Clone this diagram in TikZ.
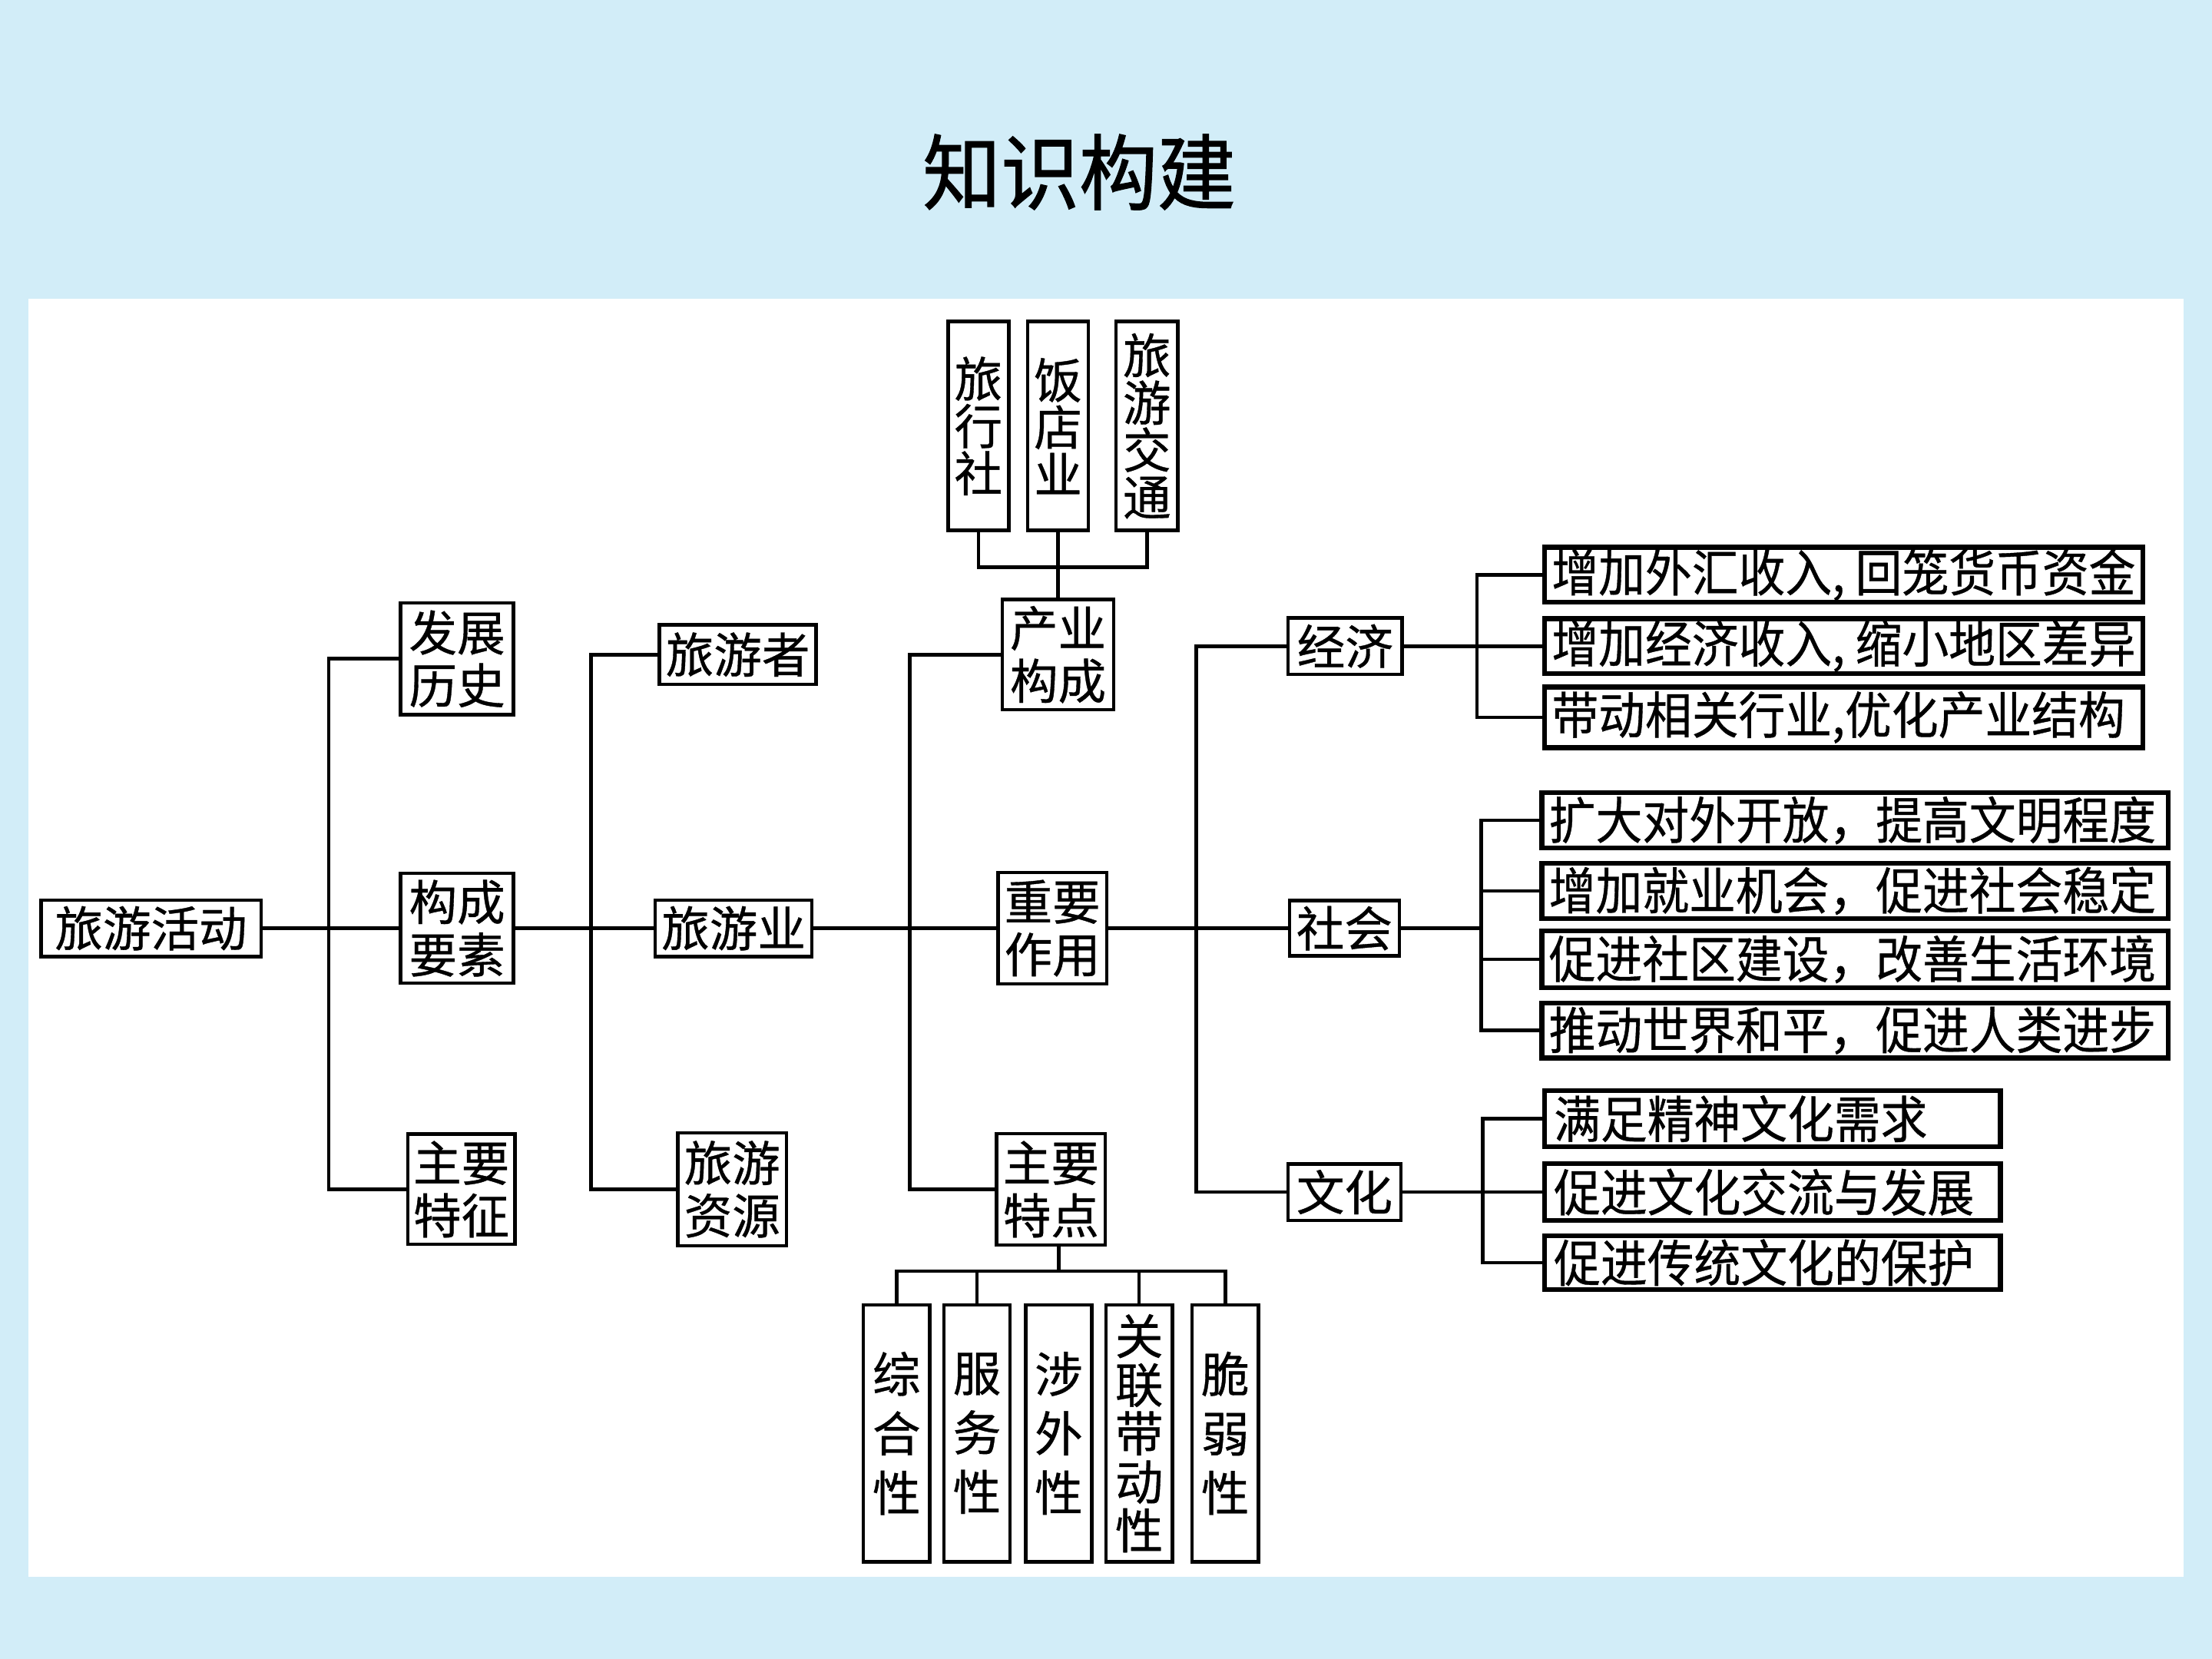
\documentclass[tikz,border=0pt]{standalone}
\usepackage{fontspec}
\usepackage{graphicx}
\newfontfamily\cjk[FakeBold=0.6]{Noto Sans CJK SC}
\newfontfamily\cjkt[FakeBold=1.2]{Noto Sans CJK SC}
\definecolor{bgblue}{RGB}{210,237,248}
\def\myu{0.018367cm}
\newcommand{\lt}[2]{\makebox[\dimexpr\myu*#1\relax][l]{\scalebox{1}[1.08]{#2}}}
\tikzset{
 ln/.style={line width=1.3pt},
 bx/.style 2 args={draw, line width=1.3pt, inner sep=0pt, minimum width=#1*\myu, minimum height=#2*\myu, align=center, font=\cjk\fontsize{17.8}{19.5}\selectfont},
 vb/.style={font=\cjk\fontsize{17.8}{17.5}\selectfont},
 rb/.style 2 args={draw, line width=1.8pt, inner sep=0pt, minimum width=#1*\myu, minimum height=#2*\myu, font=\cjk\fontsize{17.3}{19}\selectfont},
}
\begin{document}
\begin{tikzpicture}[x=\myu,y=-\myu]
\fill[bgblue] (0,0) rectangle (1568,1176);
\useasboundingbox (0,0) rectangle (1568,1176);
\fill[white] (20,212) rectangle (1548,1118);
\node[font=\cjkt\fontsize{29}{30}\selectfont, inner sep=0pt] (title) at (765,122) {\scalebox{1}[1.05]{知识构建}};

% column 1
\node[bx={156}{40}] (huodong) at (107,658) {旅游活动};
\node[bx={80}{79}] (lishi) at (324,467) {发展\\历史};
\node[bx={80}{78}] (yaosu) at (324,658) {构成\\要素};
\node[bx={76}{78}] (tezheng) at (327,843) {主要\\特征};
% column 2
\node[bx={111}{42}] (youke) at (523,464) {旅游者};
\node[bx={111}{40}] (lyye) at (520,658) {旅游业};
\node[bx={77}{80}] (ziyuan) at (519,843) {旅游\\资源};
% column 3
\node[bx={79}{78}] (goucheng) at (750,464) {产业\\构成};
\node[bx={77}{79}] (zuoyong) at (746,658) {重要\\作用};
\node[bx={77}{79}] (tedian) at (745,843) {主要\\特点};
% top vertical boxes
\node[bx={43}{148},vb] (lxs) at (693.5,302) {旅\\行\\社};
\node[bx={43}{148},vb] (fdy) at (750,302) {饭\\店\\业};
\node[bx={44}{148},vb] (lyjt) at (813,302) {旅\\游\\交\\通};
% bottom vertical boxes
\node[bx={47}{182},font=\cjk\fontsize{17.8}{22}\selectfont] (zonghe) at (635.5,1016) {综\\合\\性};
\node[bx={47}{182},font=\cjk\fontsize{17.8}{22}\selectfont] (fuwu) at (692.5,1016) {服\\务\\性};
\node[bx={47}{182},font=\cjk\fontsize{17.8}{22}\selectfont] (shewai) at (750.5,1016) {涉\\外\\性};
\node[bx={47}{182},font=\cjk\fontsize{17.8}{18}\selectfont] (guanlian) at (807.5,1016) {关\\联\\带\\动\\性};
\node[bx={47}{182},font=\cjk\fontsize{17.8}{22}\selectfont] (cuiruo) at (868.5,1016) {脆\\弱\\性};
% column 4
\node[bx={81}{40}] (jingji) at (953.5,458) {经济};
\node[bx={78}{39}] (shehui) at (953,658) {社会};
\node[bx={80}{40}] (wenhua) at (953,845) {文化};
% right boxes
\node[rb={424}{39}] (e1) at (1307,407.5) {\lt{414}{增加外汇收入, 回笼货币资金}};
\node[rb={424}{39}] (e2) at (1307,458) {\lt{414}{增加经济收入, 缩小地区差异}};
\node[rb={424}{43}] (e3) at (1307,508.5) {\lt{414}{带动相关行业,优化产业结构}};
\node[rb={444}{39}] (s1) at (1315,581.5) {\lt{434}{扩大对外开放，提高文明程度}};
\node[rb={444}{39}] (s2) at (1315,631.5) {\lt{434}{增加就业机会，促进社会稳定}};
\node[rb={444}{40}] (s3) at (1315,680) {\lt{434}{促进社区建设，改善生活环境}};
\node[rb={444}{39}] (s4) at (1315,730.5) {\lt{434}{推动世界和平，促进人类进步}};
\node[rb={323}{40}] (w1) at (1256.5,793) {\lt{310}{满足精神文化需求}};
\node[rb={323}{40}] (w2) at (1256.5,845) {\lt{310}{促进文化交流与发展}};
\node[rb={323}{38}] (w3) at (1256.5,895) {\lt{310}{促进传统文化的保护}};

% bracket coordinates
\coordinate (b1) at (233,658);
\coordinate (b2) at (419,658);
\coordinate (b3) at (645,658);
\coordinate (b4) at (848,658);
\coordinate (b5) at (1047,458);
\coordinate (b6) at (1050,658);
\coordinate (b7) at (1051,845);
\coordinate (tb) at (750,402);
\coordinate (bb) at (750.5,901);

\begin{scope}[ln]
\draw (huodong.east) -- (yaosu.west);
\draw (lishi.west) -| (b1) |- (tezheng.west);
\draw (yaosu.east) -- (lyye.west);
\draw (youke.west) -| (b2) |- (ziyuan.west);
\draw (lyye.east) -- (zuoyong.west);
\draw (goucheng.west) -| (b3) |- (tedian.west);
\draw (lxs.south) |- (tb) -| (lyjt.south);
\draw (fdy.south) -- (goucheng.north);
\draw (zonghe.north) |- (bb) -| (cuiruo.north);
\draw (tedian.south -| shewai.north) -- (bb);
\draw (fuwu.north) -- (fuwu.north |- bb);
\draw (guanlian.north) -- (guanlian.north |- bb);
\draw (zuoyong.east) -- (shehui.west);
\draw (jingji.west) -| (b4) |- (wenhua.west);
\draw (jingji.east) -- (e2.west);
\draw (e1.west) -| (b5) |- (e3.west);
\draw (shehui.east) -- (b6);
\draw (s1.west) -| (b6) |- (s4.west);
\draw (s2.west) -- (s2.west -| b6);
\draw (s3.west) -- (s3.west -| b6);
\draw (wenhua.east) -- (w2.west);
\draw (w1.west) -| (b7) |- (w3.west);
\end{scope}
\end{tikzpicture}
\end{document}
